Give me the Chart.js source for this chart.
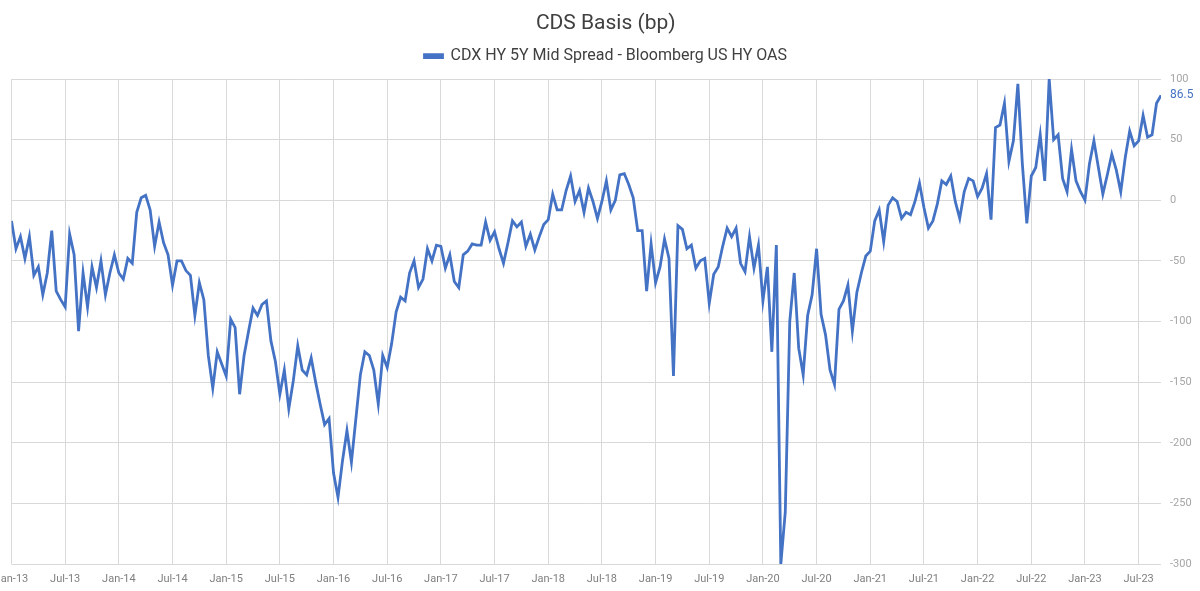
<!DOCTYPE html>
<html lang="en">
<head>
<meta charset="UTF-8">
<title>CDS Basis (bp)</title>
<script src="https://cdn.jsdelivr.net/npm/chart.js@4"></script>
<style>
    * { margin: 0; padding: 0; box-sizing: border-box; }
    body { background: #fff; width: 1200px; height: 591px; overflow: hidden; }
</style>
</head>
<body>
<canvas id="basisChart" width="1200" height="591"></canvas>
<script>
// CDS basis in bp, read twice a month (1st and 16th), Jan-13 .. mid Sep-23
const y2013 = [-17, -40, -30, -48, -30, -62, -55, -78, -60, -25, -75, -82, -88, -28, -45, -108, -60, -88, -55, -72, -50, -78, -60, -45];
const y2014 = [-60, -65, -48, -52, -10, 2, 4, -8, -38, -18, -35, -45, -70, -50, -50, -58, -62, -95, -68, -82, -128, -155, -125, -135];
const y2015 = [-145, -98, -105, -160, -128, -108, -89, -95, -86, -83, -116, -133, -160, -140, -172, -149, -120, -140, -144, -130, -150, -168, -185, -180];
const y2016 = [-225, -245, -215, -190, -216, -180, -144, -125, -128, -140, -168, -128, -138, -118, -92, -80, -83, -60, -50, -72, -65, -40, -50, -37];
const y2017 = [-38, -56, -45, -67, -72, -45, -42, -36, -37, -37, -18, -33, -26, -40, -52, -35, -17, -22, -18, -38, -28, -41, -30, -20];
const y2018 = [-16, 5, -8, -8, 8, 20, -1, 8, -10, 10, -1, -15, -1, 16, -8, 0, 21, 22, 13, 2, -25, -25, -75, -36];
const y2019 = [-68, -55, -32, -48, -145, -21, -24, -40, -37, -56, -50, -48, -85, -61, -55, -38, -23, -30, -23, -52, -59, -30, -56, -37];
const y2020 = [-83, -55, -125, -37, -300, -257, -100, -60, -122, -144, -95, -78, -40, -94, -111, -140, -152, -90, -83, -70, -108, -76, -60, -46];
const y2021 = [-42, -17, -8, -34, -4, 2, -1, -15, -10, -12, -1, 14, -6, -23, -17, -3, 16, 13, 20, -1, -15, 7, 18, 16];
const y2022 = [3, 10, 22, -16, 60, 62, 80, 32, 49, 96, 30, -19, 20, 27, 54, 16, 100, 50, 54, 18, 7, 42, 16, 7];
const y2023 = [0, 30, 49, 27, 5, 21, 38, 25, 7, 35, 57, 45, 49, 70, 52, 54, 80, 86.5];

const yearSeries = [y2013, y2014, y2015, y2016, y2017, y2018, y2019, y2020, y2021, y2022, y2023];
const firstYear = 2013;
const tickMonths = ['Jan', 'Jul'];
const seriesLabel = 'CDX HY 5Y Mid Spread - Bloomberg US HY OAS';

// x = months since Jan-13
const points = [];
yearSeries.forEach((vals, k) => {
    vals.forEach((v, i) => points.push({ x: k * 12 + i * 0.5, y: v }));
});
const lastPoint = points[points.length - 1];

const blue = '#4472C4';
const gridColor = '#d9d9d9';

// value label next to the last point
const endLabel = {
    id: 'endLabel',
    afterDatasetsDraw(chart) {
        const { ctx, chartArea, scales } = chart;
        const y = scales.y.getPixelForValue(lastPoint.y);
        ctx.save();
        ctx.font = '12px Roboto';
        ctx.fillStyle = blue;
        ctx.textAlign = 'left';
        ctx.textBaseline = 'middle';
        ctx.fillText(lastPoint.y.toFixed(1), chartArea.right + 9, y);
        ctx.restore();
    }
};

// fixed legend box height so the plot starts where it does in the original
const legendBox = {
    id: 'legendBox',
    beforeInit(chart) {
        const fit = chart.legend.fit;
        chart.legend.fit = function () {
            fit.call(this);
            this.height = 42.8;
        };
    }
};

new Chart(document.getElementById('basisChart'), {
    type: 'line',
    data: {
        datasets: [{
            label: seriesLabel,
            data: points,
            borderColor: blue,
            backgroundColor: blue,
            borderWidth: 2.8,
            pointRadius: 0,
            tension: 0
        }]
    },
    options: {
        responsive: false,
        animation: false,
        devicePixelRatio: 1,
        layout: { padding: { left: 11.5, right: 0, top: 0, bottom: 5 } },
        plugins: {
            title: {
                display: true,
                text: 'CDS Basis (bp)',
                color: '#404040',
                font: { family: 'Roboto', size: 21, weight: 'normal' },
                padding: { top: 11, bottom: 0 }
            },
            legend: {
                labels: {
                    color: '#404040',
                    font: { family: 'Roboto', size: 16 },
                    boxWidth: 18,
                    boxHeight: 3,
                    padding: 12
                }
            },
            tooltip: { enabled: false }
        },
        scales: {
            x: {
                type: 'linear',
                min: 0,
                max: lastPoint.x,
                afterFit: s => { s.paddingLeft = 0; s.paddingRight = 0; s.height = 22; },
                ticks: {
                    stepSize: 6,
                    includeBounds: false,
                    autoSkip: false,
                    maxRotation: 0,
                    color: '#7f7f7f',
                    font: { family: 'Roboto', size: 11 },
                    padding: 9,
                    callback: v => tickMonths[(v / 6) % 2] + '-' + String(firstYear - 2000 + Math.floor(v / 12))
                },
                grid: { color: gridColor, drawTicks: false },
                border: { display: false }
            },
            y: {
                position: 'right',
                min: -300,
                max: 100,
                afterFit: s => { s.width = 39; },
                ticks: {
                    stepSize: 50,
                    color: '#a6a6a6',
                    font: { family: 'Roboto', size: 11 },
                    padding: 9
                },
                grid: { color: gridColor, drawTicks: false },
                border: { display: false }
            }
        }
    },
    plugins: [endLabel, legendBox]
});
</script>
</body>
</html>
